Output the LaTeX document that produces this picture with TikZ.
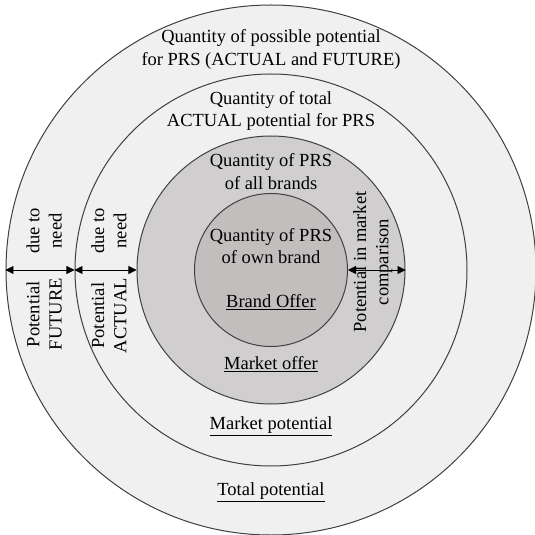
\documentclass[tikz,border=0pt]{standalone}
\usepackage{fontspec}
\setmainfont{Liberation Serif}
\usepackage{tikz}
\usetikzlibrary{arrows.meta,positioning}
\definecolor{ringline}{HTML}{404040}
\definecolor{ringpale}{HTML}{F0F0F0}
\definecolor{ringmid}{HTML}{D0CECE}
\definecolor{ringdark}{HTML}{C2BEBE}
\tikzset{
  ring/.style={
    circle, draw=ringline, fill=#1, line width=1pt,
    inner sep=0pt
  },
  ring/.default=ringpale,
  ringtext/.style={
    font=\fontsize{18.5}{22.3}\selectfont, align=center,
    inner sep=0pt
  },
  sidetext/.style={
    ringtext, rotate=90
  },
  dimarrow/.style={
    {Triangle[length=8pt,width=8pt]}-{Triangle[length=8pt,width=8pt]},
    line width=0.8pt, color=#1
  },
  dimarrow/.default=black,
}

\begin{document}
\begin{tikzpicture}[x=1pt,y=1pt]
\useasboundingbox (-271,-265) rectangle (264,270);

% Nested circles
\node[ring=ringpale, minimum size=530pt] (total) at (0,0) {};
\node[ring=ringpale, minimum size=392pt] (market) at (0,0) {};
\node[ring=ringmid, minimum size=268pt] (offer) at (0,0) {};
\node[ring=ringdark, minimum size=153pt] (brand) at (0,0) {};

% Horizontal labels
\node[ringtext] (possible) at (0,220.5) {Quantity of possible potential\\for PRS (ACTUAL and FUTURE)};
\node[ringtext] (actual) at (0,158.8) {Quantity of total\\ACTUAL potential for PRS};
\node[ringtext] (allbrands) at (0,98.5) {Quantity of PRS\\of all brands};
\node[ringtext] (ownbrand) at (0,24) {Quantity of PRS\\of own brand};
\node[ringtext] (brandoffer) at (0,-32) {\underline{Brand Offer}};
\node[ringtext] (marketoffer) at (0,-94.4) {\underline{Market offer}};
\node[ringtext] (marketpot) at (0,-156.5) {\underline{Market potential}};
\node[ringtext] (totalpot) at (0,-222.4) {\underline{Total potential}};

% Rotated labels, split by the arrows
\node[sidetext, anchor=east] (futurelow) at (-226.8,-8) {Potential\\FUTURE};
\node[sidetext, anchor=west] (futureup) at (-226.8,16) {due to\\need};
\node[sidetext, anchor=east] (actuallow) at (-162,-8) {Potential\\ACTUAL};
\node[sidetext, anchor=west] (actualup) at (-162,16) {due to\\need};
\node[sidetext] (comparison) at (101.8,8) {Potential in market\\comparison};

% Arrows between the rings
\draw[dimarrow] (total.west) -- (market.west);
\draw[dimarrow] (market.west) -- (offer.west);
\draw[dimarrow] (brand.east) -- (offer.east);

\end{tikzpicture}
\end{document}
